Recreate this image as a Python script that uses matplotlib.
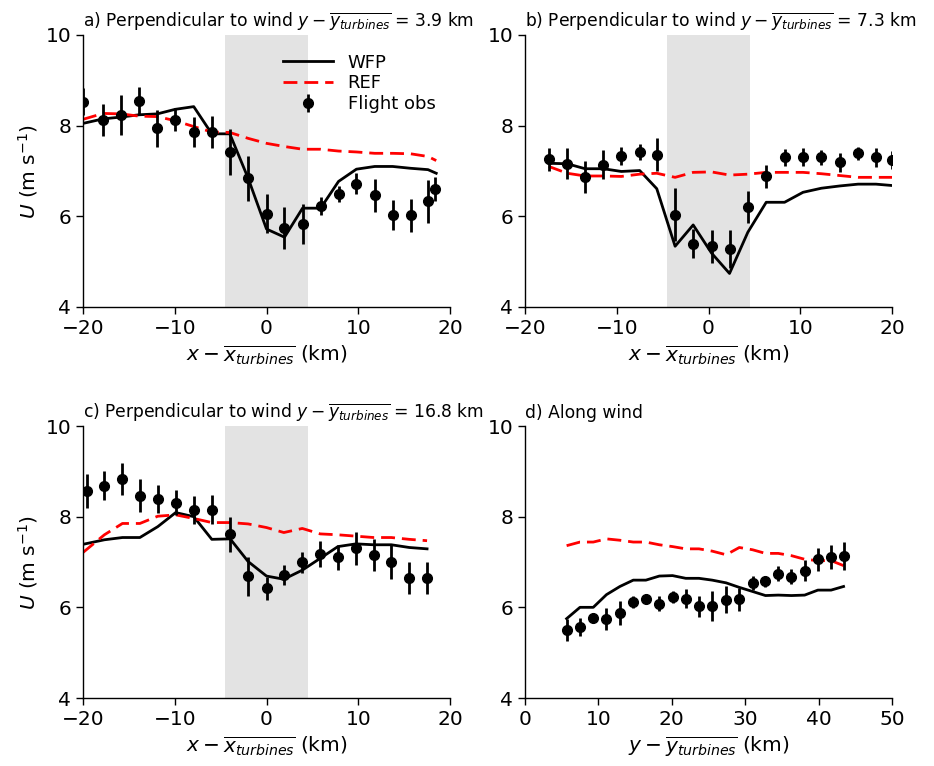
import numpy as np
import matplotlib
matplotlib.use("Agg")
import matplotlib.pyplot as plt

plt.rcParams["font.family"] = "DejaVu Sans"
plt.rcParams["mathtext.fontset"] = "dejavusans"

# ----------------------
# a) perpendicular to wind, 3.9 km
# ----------------------
a_x = [-20.0, -17.8, -15.85, -13.9, -11.9, -9.96, -7.93, -5.96, -4.0, -2.0, 0.0,
       1.96, 3.93, 5.9, 7.85, 9.8, 11.8, 13.75, 15.7, 17.6, 18.4]
a_obs = [8.53, 8.13, 8.24, 8.55, 7.94, 8.13, 7.87, 7.86, 7.42, 6.84, 6.06,
         5.74, 5.84, 6.22, 6.5, 6.72, 6.46, 6.02, 6.02, 6.33, 6.6]
a_err = [0.3, 0.35, 0.44, 0.3, 0.4, 0.25, 0.33, 0.35, 0.5, 0.5, 0.43,
         0.46, 0.44, 0.2, 0.18, 0.23, 0.37, 0.33, 0.37, 0.48, 0.27]
a_mx = [-20.0, -17.8, -15.85, -13.9, -11.9, -9.96, -7.93, -5.96, -4.0, -2.0, 0.0,
        1.96, 3.93, 5.9, 7.85, 9.8, 11.8, 13.75, 15.7, 17.6, 18.5]
a_wfp = [8.05, 8.15, 8.19, 8.24, 8.26, 8.36, 8.42, 7.82, 7.82, 6.84, 5.72,
         5.54, 6.18, 6.18, 6.77, 7.04, 7.1, 7.1, 7.06, 7.03, 6.95]
a_ref = [8.14, 8.27, 8.26, 8.21, 8.2, 8.11, 7.98, 7.86, 7.85, 7.72, 7.61,
         7.54, 7.48, 7.48, 7.44, 7.42, 7.39, 7.39, 7.38, 7.32, 7.23]

# ----------------------
# b) perpendicular to wind, 7.3 km
# ----------------------
b_x = [-17.4, -15.4, -13.45, -11.45, -9.5, -7.5, -5.64, -3.64, -1.67, 0.33,
       2.29, 4.29, 6.29, 8.29, 10.3, 12.3, 14.3, 16.3, 18.25, 20.0]
b_obs = [7.26, 7.16, 6.86, 7.14, 7.33, 7.42, 7.36, 6.04, 5.4, 5.34,
         5.28, 6.2, 6.88, 7.3, 7.3, 7.3, 7.19, 7.39, 7.3, 7.25]
b_err = [0.25, 0.34, 0.35, 0.32, 0.19, 0.18, 0.37, 0.59, 0.32, 0.36,
         0.41, 0.35, 0.26, 0.18, 0.2, 0.17, 0.21, 0.15, 0.21, 0.2]
b_wfp = [7.17, 7.16, 7.05, 7.05, 6.99, 7.01, 6.61, 5.34, 5.81, 5.19,
         4.74, 5.65, 6.31, 6.31, 6.53, 6.62, 6.67, 6.71, 6.71, 6.68]
b_ref = [7.1, 6.95, 6.89, 6.89, 6.88, 6.93, 6.95, 6.86, 6.97, 6.98,
         6.91, 6.93, 6.97, 6.97, 6.97, 6.94, 6.9, 6.86, 6.86, 6.86]

# ----------------------
# c) perpendicular to wind, 16.8 km
# ----------------------
c_x = [-19.56, -17.67, -15.7, -13.8, -11.85, -9.9, -7.93, -5.96, -3.96, -2.0,
       0.0, 1.89, 3.9, 5.85, 7.78, 9.75, 11.67, 13.6, 15.56, 17.5]
c_obs = [8.57, 8.68, 8.83, 8.46, 8.39, 8.31, 8.15, 8.15, 7.61, 6.69,
         6.42, 6.71, 6.99, 7.17, 7.1, 7.3, 7.15, 7.0, 6.65, 6.65]
c_err = [0.37, 0.32, 0.35, 0.36, 0.31, 0.28, 0.31, 0.32, 0.38, 0.43,
         0.26, 0.22, 0.24, 0.29, 0.28, 0.37, 0.35, 0.37, 0.36, 0.35]
c_mx = [-20.0, -17.67, -15.7, -13.8, -11.85, -9.9, -7.93, -5.96, -3.96, -2.0,
        0.0, 1.89, 3.9, 5.85, 7.78, 9.75, 11.67, 13.6, 15.56, 17.5]
c_wfp = [7.39, 7.49, 7.54, 7.54, 7.78, 8.09, 8.0, 7.5, 7.51, 7.01,
         6.69, 6.62, 6.82, 7.08, 7.34, 7.4, 7.38, 7.38, 7.32, 7.29]
c_ref = [7.21, 7.6, 7.85, 7.85, 8.01, 8.04, 7.96, 7.87, 7.87, 7.84,
         7.76, 7.65, 7.74, 7.62, 7.6, 7.57, 7.54, 7.54, 7.5, 7.47]

# ----------------------
# d) along wind
# ----------------------
d_y = [5.67, 7.49, 9.3, 11.1, 12.93, 14.75, 16.47, 18.3, 20.1, 21.9, 23.7,
       25.5, 27.4, 29.2, 31.0, 32.76, 34.5, 36.3, 38.1, 39.9, 41.7, 43.4]
d_obs = [5.5, 5.57, 5.77, 5.74, 5.88, 6.11, 6.19, 6.08, 6.23, 6.19, 6.02,
         6.02, 6.17, 6.18, 6.54, 6.57, 6.74, 6.68, 6.81, 7.06, 7.11, 7.14]
d_err = [0.25, 0.2, 0.1, 0.24, 0.26, 0.13, 0.1, 0.16, 0.14, 0.21, 0.23,
         0.33, 0.29, 0.25, 0.16, 0.13, 0.17, 0.16, 0.23, 0.25, 0.26, 0.31]
d_wfp = [5.75, 6.0, 6.0, 6.28, 6.46, 6.6, 6.6, 6.69, 6.7, 6.64, 6.64,
         6.6, 6.54, 6.44, 6.35, 6.26, 6.27, 6.26, 6.27, 6.38, 6.38, 6.46]
d_ref = [7.36, 7.44, 7.44, 7.51, 7.48, 7.44, 7.44, 7.38, 7.34, 7.29, 7.29,
         7.24, 7.16, 7.32, 7.27, 7.19, 7.19, 7.14, 7.06, 7.03, 7.03, 6.92]

farm_edges = (-4.5, 4.5)

fig = plt.figure(figsize=(9.34, 7.66), dpi=100)
W, H = 934, 766


def make_axes(left, top, right, bottom):
    return fig.add_axes([left / W, 1 - bottom / H, (right - left) / W, (bottom - top) / H])


ax_a = make_axes(83, 35, 450, 307)
ax_b = make_axes(525, 35, 892, 307)
ax_c = make_axes(83, 426, 450, 698)
ax_d = make_axes(525, 426, 892, 698)

panels = [
    (ax_a, a_x, a_obs, a_err, a_mx, a_wfp, a_ref,
     r"a) Perpendicular to wind $y - \overline{y_{turbines}}$ = 3.9 km"),
    (ax_b, b_x, b_obs, b_err, b_x, b_wfp, b_ref,
     r"b) Perpendicular to wind $y - \overline{y_{turbines}}$ = 7.3 km"),
    (ax_c, c_x, c_obs, c_err, c_mx, c_wfp, c_ref,
     r"c) Perpendicular to wind $y - \overline{y_{turbines}}$ = 16.8 km"),
    (ax_d, d_y, d_obs, d_err, d_y, d_wfp, d_ref, "d) Along wind"),
]

for ax, x, obs, err, mx, wfp, ref, title in panels:
    if ax is not ax_d:
        ax.axvspan(*farm_edges, color="#e3e3e3", lw=0, zorder=0)
    ax.plot(mx, wfp, "-", color="black", lw=2, label="WFP")
    ax.plot(mx, ref, "--", color="red", lw=2, dashes=(5, 2.5), label="REF")
    ax.errorbar(x, obs, yerr=err, fmt="o", color="black", ms=7, elinewidth=2,
                capsize=0, label="Flight obs")
    ax.set_ylim(4, 10)
    ax.set_yticks([4, 6, 8, 10])
    ax.set_title(title, loc="left", fontsize=12.3, pad=6)
    ax.spines["top"].set_visible(False)
    ax.spines["right"].set_visible(False)
    ax.tick_params(labelsize=14.5, length=5, width=1)
    for s in ax.spines.values():
        s.set_linewidth(1)

for ax in (ax_a, ax_b, ax_c):
    ax.set_xlim(-20, 20)
    ax.set_xticks([-20, -10, 0, 10, 20])
    ax.set_xlabel(r"$x - \overline{x_{turbines}}$ (km)", fontsize=14.5)

ax_d.set_xlim(0, 50)
ax_d.set_xticks([0, 10, 20, 30, 40, 50])
ax_d.set_xlabel(r"$y - \overline{y_{turbines}}$ (km)", fontsize=14.5)

for ax in (ax_a, ax_c):
    ax.set_ylabel(r"$U$ (m s$^{-1}$)", fontsize=14.5)

ax_a.legend(loc="upper right", bbox_to_anchor=(1.0, 0.985), frameon=False,
            fontsize=13, handlelength=2.8, labelspacing=0.15, borderpad=0.3)

fig.savefig("out.png", dpi=100)
